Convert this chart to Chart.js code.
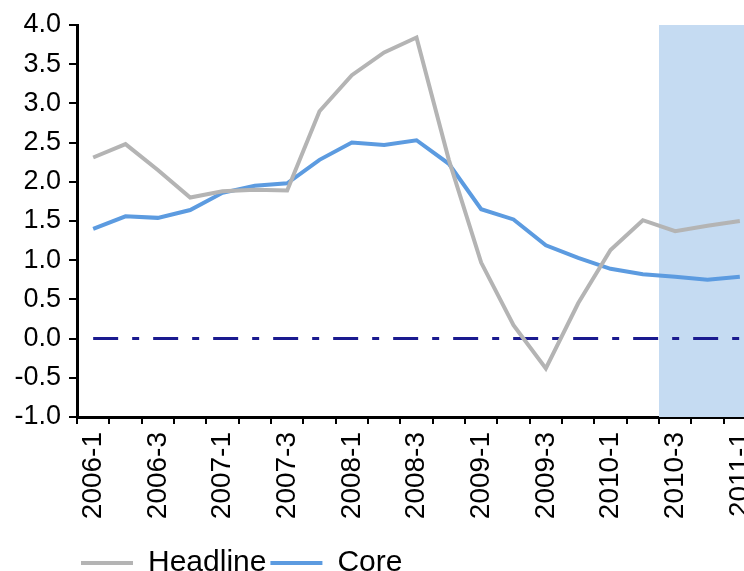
<!DOCTYPE html>
<html>
<head>
<meta charset="utf-8">
<script src="https://cdn.jsdelivr.net/npm/chart.js@4.4.1/dist/chart.umd.min.js"></script>
<style>
  body { margin: 0; overflow: hidden; background: #fff; }
  #wrap { position: relative; width: 756px; height: 571px; }
</style>
</head>
<body>
<div id="wrap"><canvas id="cpi"></canvas></div>
<script>
const quarters = ['2006-1', '2006-2', '2006-3', '2006-4', '2007-1', '2007-2', '2007-3', '2007-4',
  '2008-1', '2008-2', '2008-3', '2008-4', '2009-1', '2009-2', '2009-3', '2009-4',
  '2010-1', '2010-2', '2010-3', '2010-4', '2011-1'];
const headline = [2.31, 2.48, 2.15, 1.80, 1.88, 1.90, 1.89, 2.90, 3.36, 3.65, 3.84, 2.28,
  0.97, 0.17, -0.38, 0.45, 1.13, 1.51, 1.37, 1.44, 1.50];
const core = [1.40, 1.56, 1.54, 1.64, 1.86, 1.95, 1.98, 2.28, 2.50, 2.47, 2.53, 2.23,
  1.65, 1.52, 1.19, 1.03, 0.89, 0.82, 0.79, 0.75, 0.79];
const baseline = [0, 0, 0, 0, 0, 0, 0, 0, 0, 0, 0, 0, 0, 0, 0, 0, 0, 0, 0, 0, 0];
const forecastStart = '2010-3';

Chart.defaults.font.family = '"Liberation Sans", Arial, sans-serif';
Chart.defaults.color = '#000';

// light blue band behind the lines for the forecast quarters
const forecastBand = {
  id: 'forecastBand',
  beforeDatasetsDraw(chart) {
    const { ctx, chartArea, scales } = chart;
    const i = quarters.indexOf(forecastStart);
    const half = (scales.x.getPixelForValue(1) - scales.x.getPixelForValue(0)) / 2;
    const left = scales.x.getPixelForValue(i) - half;
    ctx.save();
    ctx.fillStyle = '#c5dbf2';
    ctx.fillRect(left, chartArea.top, chartArea.right - left, chartArea.bottom - chartArea.top);
    ctx.restore();
  }
};

const ctx = document.getElementById('cpi');
new Chart(ctx, {
  type: 'line',
  data: {
    labels: quarters,
    datasets: [
      { label: 'Headline', data: headline, borderColor: '#b4b4b4', backgroundColor: '#b4b4b4', borderWidth: 4 },
      { label: 'Core', data: core, borderColor: '#5c9be0', backgroundColor: '#5c9be0', borderWidth: 4 },
      { label: 'zero', data: baseline, borderColor: '#1a1a8f', borderWidth: 3, borderDash: [25, 14, 7, 14] }
    ]
  },
  options: {
    responsive: true,
    maintainAspectRatio: false,
    animation: false,
    layout: { padding: { left: 0, top: 25, right: 0, bottom: -17 } },
    elements: { point: { radius: 0 }, line: { tension: 0, borderCapStyle: 'butt' } },
    plugins: {
      tooltip: { enabled: false },
      legend: {
        position: 'bottom',
        align: 'start',
        fullSize: false,
        labels: {
          usePointStyle: true,
          pointStyle: 'line',
          pointStyleWidth: 52,
          padding: 4,
          font: { size: 30 },
          filter: item => item.text !== 'zero'
        }
      }
    },
    scales: {
      x: {
        offset: true,
        grid: { offset: true, drawOnChartArea: false, drawTicks: true, tickLength: 7, color: '#000', lineWidth: 2 },
        border: { display: true, color: '#000', width: 3 },
        ticks: {
          autoSkip: false,
          minRotation: 90,
          maxRotation: 90,
          padding: 8,
          font: { size: 28 },
          callback: (v, i) => (i % 2 === 0 ? quarters[i] : '')
        },
        afterFit: axis => { axis.paddingLeft = 0; axis.paddingRight = 0; axis.height = 127; }
      },
      y: {
        min: -1,
        max: 4,
        grid: { drawOnChartArea: false, drawTicks: true, tickLength: 8, color: '#000', lineWidth: 2 },
        border: { display: true, color: '#000', width: 3 },
        ticks: {
          stepSize: 0.5,
          padding: 8,
          font: { size: 27 },
          callback: v => v.toFixed(1)
        },
        afterFit: axis => { axis.width = 77; axis.paddingTop = 0; axis.paddingBottom = 0; }
      }
    }
  },
  plugins: [forecastBand]
});
</script>
</body>
</html>
